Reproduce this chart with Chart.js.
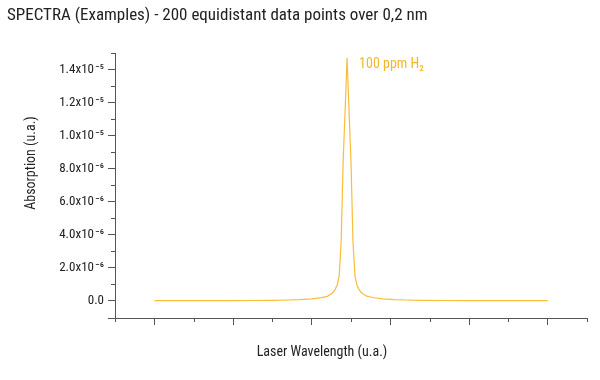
<!DOCTYPE html>
<html>
<head>
<meta charset="utf-8">
<script src="https://cdn.jsdelivr.net/npm/chart.js@4/dist/chart.umd.min.js"></script>
<style>
  body { margin: 0; background: #fff; }
  canvas { display: block; }
</style>
</head>
<body>
<canvas id="spectraChart" width="600" height="380"></canvas>
<script>
"use strict";

// data
var chartTitle = "SPECTRA (Examples) - 200 equidistant data points over 0,2 nm";
var seriesLabel = "100 ppm H\u2082";
var xTitle = "Laser Wavelength (u.a.)";
var yTitle = "Absorption (u.a.)";

var wavelength = [
  -0.100, -0.090, -0.080, -0.060, -0.050, -0.040, -0.032, -0.026, -0.020, -0.015,
  -0.012, -0.010, -0.009, -0.008, -0.007, -0.006, -0.005, -0.004, -0.003, -0.002,
  -0.001, 0.000, 0.001, 0.002, 0.003, 0.004, 0.005, 0.006, 0.008, 0.011,
  0.016, 0.022, 0.028, 0.036, 0.046, 0.060, 0.080, 0.090, 0.100
];
var absorption = [
  0.00e-6, 0.00e-6, 0.00e-6, 0.00e-6, 0.01e-6, 0.02e-6, 0.04e-6, 0.06e-6, 0.11e-6, 0.18e-6,
  0.26e-6, 0.42e-6, 0.52e-6, 0.70e-6, 0.95e-6, 1.50e-6, 3.60e-6, 8.40e-6, 11.5e-6, 14.7e-6,
  11.5e-6, 8.40e-6, 3.60e-6, 1.50e-6, 0.95e-6, 0.70e-6, 0.52e-6, 0.42e-6, 0.27e-6, 0.19e-6,
  0.11e-6, 0.06e-6, 0.04e-6, 0.02e-6, 0.01e-6, 0.00e-6, 0.00e-6, 0.00e-6, 0.00e-6
];

var xMajorTicks = [-0.10, -0.06, -0.02, 0.02, 0.06, 0.10];
var xMinorTicks = [-0.12, -0.08, -0.04, 0.00, 0.04, 0.08, 0.12];

var yMajorTicks = [0, 2e-6, 4e-6, 6e-6, 8e-6, 1.0e-5, 1.2e-5, 1.4e-5];
var yTickLabels = [
  "0.0", "2.0x10\u200A\u207B\u2076", "4.0x10\u200A\u207B\u2076", "6.0x10\u200A\u207B\u2076",
  "8.0x10\u200A\u207B\u2076", "1.0x10\u200A\u207B\u2075", "1.2x10\u200A\u207B\u2075", "1.4x10\u200A\u207B\u2075"
];
var yMinorTicks = [1e-6, 3e-6, 5e-6, 7e-6, 9e-6, 1.1e-5, 1.3e-5, 1.5e-5];

var X_MIN = -0.12, X_MAX = 0.12;
var Y_MIN = -1.05e-6, Y_MAX = 1.5e-5;

var FONT = '"Liberation Sans Narrow", "Roboto Condensed", Roboto, sans-serif';
var AXIS_COLOR = "#555555";
var LINE_COLOR = "#f9bd3a";

var points = [];
for (var i = 0; i < wavelength.length; i++) {
  points.push({ x: wavelength[i], y: absorption[i] });
}

// short minor ticks, axis titles and the series label
var extrasPlugin = {
  id: "extras",
  afterDraw: function (chart) {
    var c = chart.ctx;
    var xs = chart.scales.x;
    var ys = chart.scales.y;
    c.save();
    c.strokeStyle = AXIS_COLOR;
    c.lineWidth = 1;
    c.beginPath();
    yMinorTicks.forEach(function (v) {
      var py = Math.round(ys.getPixelForValue(v)) + 0.5;
      c.moveTo(chart.chartArea.left - 4, py);
      c.lineTo(chart.chartArea.left, py);
    });
    xMinorTicks.forEach(function (v) {
      var px = Math.round(xs.getPixelForValue(v)) + 0.5;
      c.moveTo(px, chart.chartArea.bottom);
      c.lineTo(px, chart.chartArea.bottom + 4);
    });
    c.stroke();

    c.fillStyle = "#222222";
    c.font = "14px " + FONT;
    c.textAlign = "center";
    c.textBaseline = "middle";
    c.fillText(xTitle, 322, 352);
    c.save();
    c.translate(31, 163);
    c.rotate(-Math.PI / 2);
    c.fillText(yTitle, 0, 0);
    c.restore();

    // label next to the peak
    var peak = 0;
    for (var k = 1; k < absorption.length; k++) {
      if (absorption[k] > absorption[peak]) peak = k;
    }
    c.fillStyle = "#f5b52a";
    c.font = "14px " + FONT;
    c.textAlign = "left";
    c.fillText(seriesLabel, xs.getPixelForValue(wavelength[peak]) + 12, ys.getPixelForValue(absorption[peak]) + 7);
    c.restore();
  }
};

var ctx = document.getElementById("spectraChart").getContext("2d");
var myChart = new Chart(ctx, {
  type: "line",
  data: {
    datasets: [{
      label: seriesLabel,
      data: points,
      borderColor: LINE_COLOR,
      borderWidth: 1.2,
      pointRadius: 0,
      fill: false,
      tension: 0
    }]
  },
  options: {
    responsive: false,
    animation: false,
    devicePixelRatio: 1,
    layout: { padding: { left: 7, right: 13, top: 0, bottom: 0 } },
    plugins: {
      legend: { display: false },
      tooltip: { enabled: false },
      title: {
        display: true,
        text: chartTitle,
        align: "start",
        color: "#222222",
        font: { family: FONT, size: 17, weight: "normal", lineHeight: 1.2 },
        padding: { top: 6, bottom: 26.6 }
      }
    },
    scales: {
      x: {
        type: "linear",
        min: X_MIN,
        max: X_MAX,
        afterBuildTicks: function (scale) {
          scale.ticks = xMajorTicks.map(function (v) { return { value: v }; });
        },
        afterFit: function (scale) { scale.height = 62; },
        ticks: { display: false, autoSkip: false },
        grid: {
          display: true,
          drawOnChartArea: false,
          drawTicks: true,
          tickLength: 7,
          tickColor: AXIS_COLOR
        },
        border: { display: true, color: AXIS_COLOR, width: 1 }
      },
      y: {
        type: "linear",
        min: Y_MIN,
        max: Y_MAX,
        afterBuildTicks: function (scale) {
          var t = [{ value: Y_MIN }];
          yMajorTicks.forEach(function (v) { t.push({ value: v }); });
          scale.ticks = t;
        },
        afterFit: function (scale) { scale.width = 108; },
        ticks: {
          autoSkip: false,
          padding: 4,
          color: "#222222",
          font: { family: FONT, size: 13 },
          callback: function (value) {
            for (var j = 0; j < yMajorTicks.length; j++) {
              if (Math.abs(yMajorTicks[j] - value) < 1e-12) return yTickLabels[j];
            }
            return "";
          }
        },
        grid: {
          display: true,
          drawOnChartArea: false,
          drawTicks: true,
          tickLength: 7,
          tickColor: AXIS_COLOR
        },
        border: { display: true, color: AXIS_COLOR, width: 1 }
      }
    }
  },
  plugins: [extrasPlugin]
});
</script>
</body>
</html>
